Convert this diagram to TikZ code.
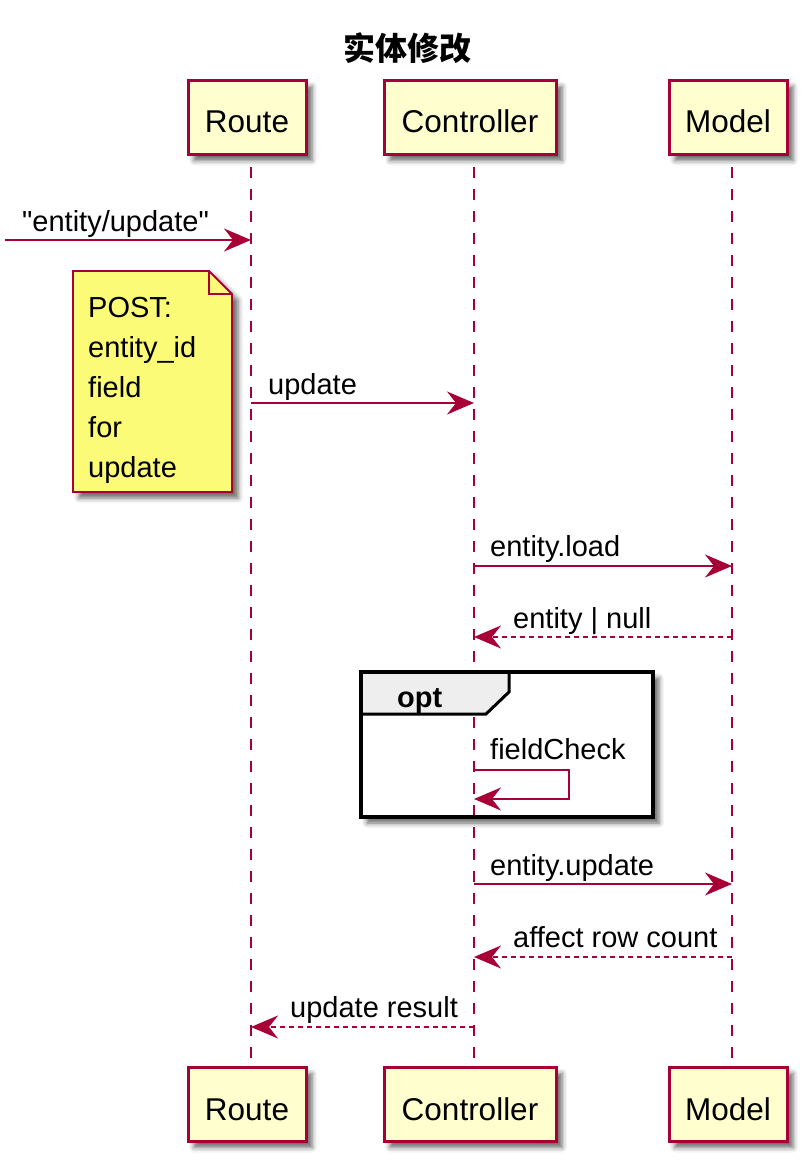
\documentclass[tikz,border=0pt]{standalone}
\usepackage{fontspec}
\setmainfont{Liberation Sans}[Ligatures=TeXOff]
\newfontfamily\cjk{Noto Sans CJK SC}
\usetikzlibrary{arrows.meta,shadows.blur}
\definecolor{pumlred}{HTML}{A80036}
\definecolor{pumlbox}{HTML}{FEFECE}
\definecolor{pumlnote}{HTML}{FBFB77}
\definecolor{pumltab}{HTML}{EEEEEE}
\begin{document}
\begin{tikzpicture}[x=1pt,y=-1pt,
  pshadow/.style={blur shadow={shadow xshift=6pt,shadow yshift=-6pt,shadow blur radius=5pt,shadow opacity=60}},
  participant/.style={draw=pumlred,line width=3pt,fill=pumlbox,rectangle,inner sep=0pt,
     minimum height=74pt,text height=31pt,text depth=0pt,font=\fontsize{31.5}{36}\selectfont,pshadow},
  lifeline/.style={draw=pumlred,line width=2pt,dash pattern=on 11pt off 11pt,dash phase=11pt},
  msg/.style={draw=pumlred,line width=2pt,-{Stealth[length=27pt,width=23pt,inset=9pt]}},
  ret/.style={msg,dash pattern=on 5pt off 4pt},
  lbl/.style={anchor=base west,inner sep=0pt,font=\fontsize{29}{34}\selectfont},
]
\useasboundingbox (0,0) rectangle (811,1166);

% title
\node[font=\cjk\bfseries\fontsize{32}{36}\selectfont,inner sep=0pt] (title) at (407,48) {实体修改};

% opt frame background (under lifelines)
\path[fill=white,pshadow] (361,672) rectangle (653,817);

% lifeline coordinates
\coordinate (rT) at (251,156); \coordinate (rB) at (251,1067);
\coordinate (cT) at (474,156); \coordinate (cB) at (474,1067);
\coordinate (mT) at (732,156); \coordinate (mB) at (732,1067);
\draw[lifeline] (rT) -- (rB);
\draw[lifeline] (cT) -- (cB);
\draw[lifeline] (mT) -- (mB);

% participants
\node[participant,minimum width=118pt] (route1) at (247,117.5) {Route};
\node[participant,minimum width=172pt] (ctrl1) at (470,117.5) {Controller};
\node[participant,minimum width=118pt] (model1) at (728,117.5) {Model};
\node[participant,minimum width=118pt] (route2) at (247,1104.5) {Route};
\node[participant,minimum width=172pt] (ctrl2) at (470,1104.5) {Controller};
\node[participant,minimum width=118pt] (model2) at (728,1104.5) {Model};

% message 1
\coordinate (in1) at (5,240); \coordinate (r1) at (251,240);
\draw[msg] (in1) -- (r1);
\node[lbl] (l1) at (22,232) {"entity/update"};

% note
\draw[draw=pumlred,line width=1.8pt,fill=pumlnote,pshadow]
  (73,271) -- (209,271) -- (232,294) -- (232,492) -- (73,492) -- cycle;
\draw[draw=pumlred,line width=1.8pt] (209,271) -- (209,294) -- (232,294);
\node[lbl] (n1) at (88,317) {POST:};
\node[lbl] (n2) at (88,357) {entity\_id};
\node[lbl] (n3) at (88,397) {field};
\node[lbl] (n4) at (88,437) {for};
\node[lbl] (n5) at (88,477) {update};

% message 2
\coordinate (r2) at (251,403); \coordinate (c2) at (474,403);
\draw[msg] (r2) -- (c2);
\node[lbl] (l2) at (268,394) {update};

% message 3
\coordinate (c3) at (474,566); \coordinate (m3) at (732,566);
\draw[msg] (c3) -- (m3);
\node[lbl] (l3) at (490,556) {entity.load};

% message 4
\coordinate (m4) at (732,637); \coordinate (c4) at (474,637);
\draw[ret] (m4) -- (c4);
\node[lbl] (l4) at (513,628) {entity | null};

% opt frame
\fill[pumltab] (361,672) -- (509,672) -- (509,692) -- (486,714) -- (361,714) -- cycle;
\draw[black,line width=3pt] (361,714) -- (486,714) -- (509,692) -- (509,672);
\draw[black,line width=4.5pt] (361,672) rectangle (653,817);
\node[lbl,font=\bfseries\fontsize{29}{34}\selectfont] (opt) at (397,707) {opt};

% self message
\coordinate (c5a) at (474,770); \coordinate (s5a) at (569,770);
\coordinate (s5b) at (569,799); \coordinate (c5b) at (474,799);
\draw[msg] (c5a) -- (s5a) -- (s5b) -- (c5b);
\node[lbl] (l5) at (490,759) {fieldCheck};

% message 6
\coordinate (c6) at (474,884); \coordinate (m6) at (732,884);
\draw[msg] (c6) -- (m6);
\node[lbl] (l6) at (490,875) {entity.update};

% message 7
\coordinate (m7) at (732,957); \coordinate (c7) at (474,957);
\draw[ret] (m7) -- (c7);
\node[lbl] (l7) at (513,947) {affect row count};

% message 8
\coordinate (c8) at (474,1027); \coordinate (r8) at (251,1027);
\draw[ret] (c8) -- (r8);
\node[lbl] (l8) at (290,1017) {update result};
\end{tikzpicture}
\end{document}
